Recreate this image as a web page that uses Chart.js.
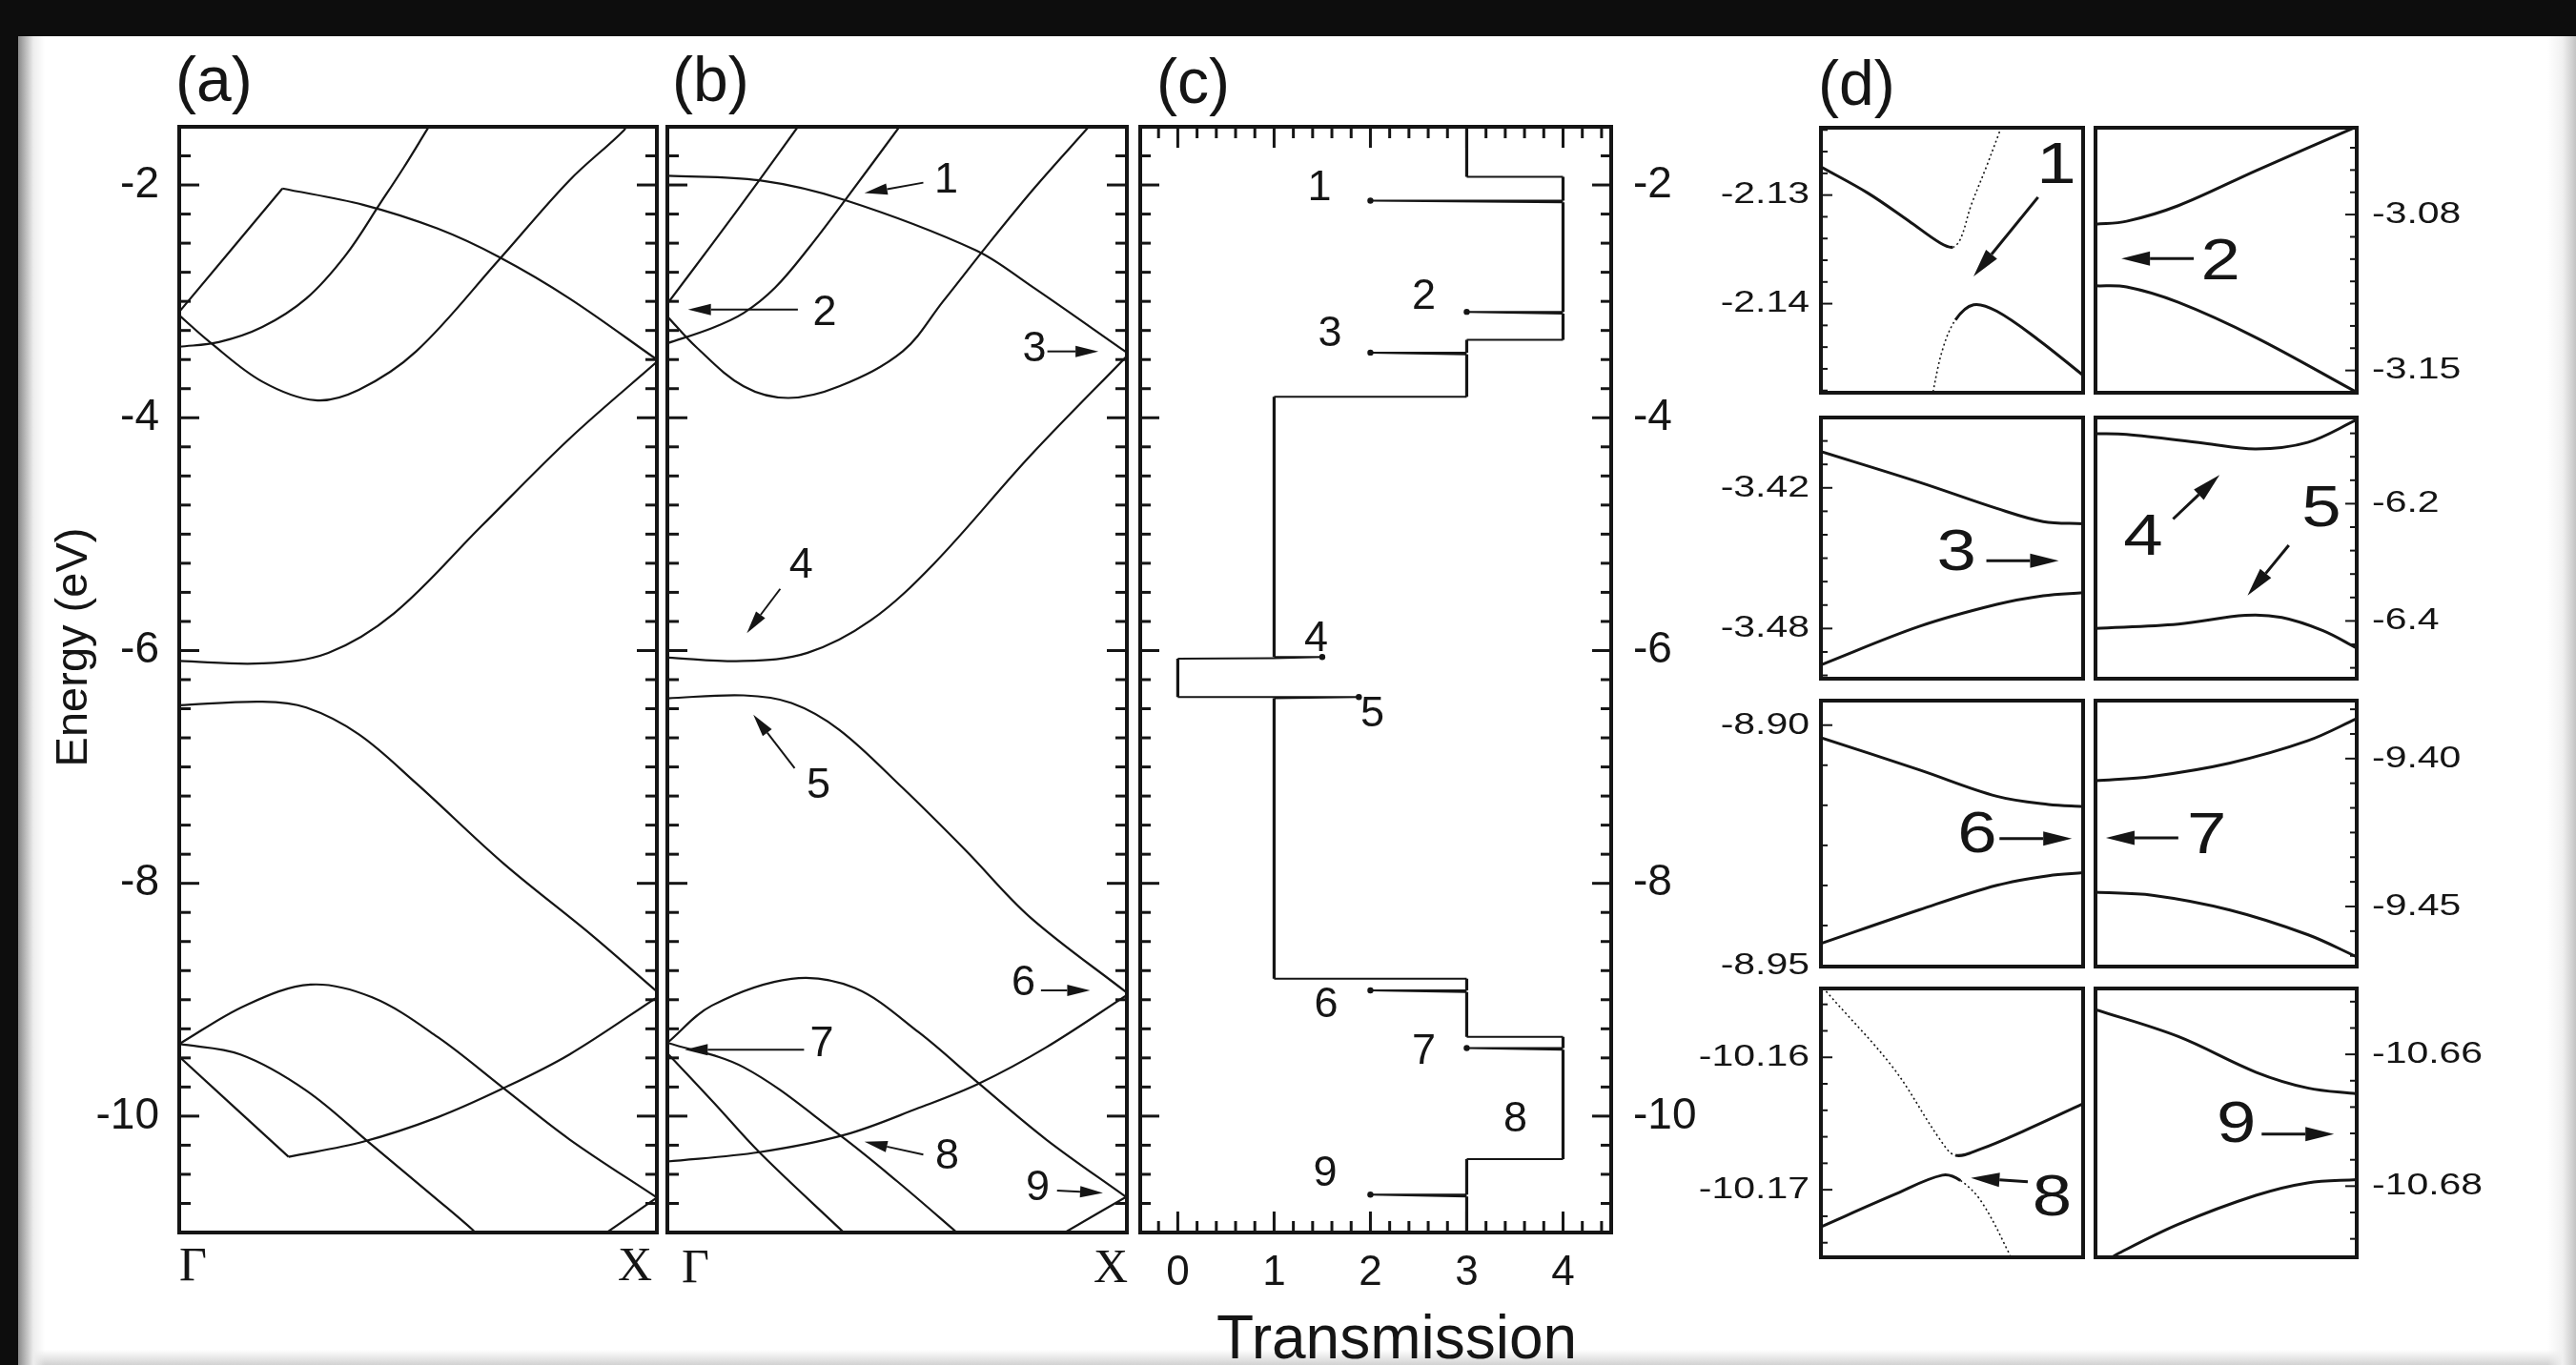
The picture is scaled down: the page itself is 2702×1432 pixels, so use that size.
<!DOCTYPE html>
<html>
<head>
<meta charset="utf-8">
<title>Band structure and transmission</title>
<script src="https://cdn.jsdelivr.net/npm/chart.js@4.4.1/dist/chart.umd.min.js"></script>
<style>
  html, body { margin: 0; padding: 0; }
  body { width: 2702px; height: 1432px; background: #0d0d0d; position: relative; overflow: hidden; }
  #sheet {
    position: absolute; left: 19px; top: 38px; right: 0; bottom: 0;
    background:
      linear-gradient(to right, #8a8a8a, #ededed 16px, rgba(255,255,255,0) 28px),
      linear-gradient(to left, #c4c4c4, #f0f0f0 14px, rgba(255,255,255,0) 30px),
      linear-gradient(to top, #d2d2d2, rgba(255,255,255,0) 16px),
      #fff;
  }
  canvas { position: absolute; }
</style>
</head>
<body>
<div id="sheet"></div>
<canvas id="panelA"></canvas>
<canvas id="panelB"></canvas>
<canvas id="panelC"></canvas>
<canvas id="box1"></canvas>
<canvas id="box2"></canvas>
<canvas id="box3"></canvas>
<canvas id="box4"></canvas>
<canvas id="box5"></canvas>
<canvas id="box6"></canvas>
<canvas id="box7"></canvas>
<canvas id="box8"></canvas>
<script>
// ---------------- data ----------------
// k runs from 0 (Gamma) to 1 (X); points are [k, E in eV]
const kPoints = [0, 1];
const kNames = ['Γ', 'X'];
const energyTicks = [-2, -4, -6, -8, -10];
const transTicks = [0, 1, 2, 3, 4];

// panel (a)
const bandA1 = [[0, -3.09], [0.216, -2.03]];
const bandA2 = [[0.216, -2.03], [0.385, -2.17], [0.541, -2.375], [0.67, -2.62], [0.817, -2.975], [1, -3.5]];
const bandA3 = [[0, -3.39], [0.083, -3.35], [0.174, -3.22], [0.266, -2.975], [0.349, -2.6], [0.422, -2.15], [0.47, -1.85], [0.518, -1.53], [0.53, -1.45]];
const bandA4 = [[0, -3.12], [0.064, -3.35], [0.174, -3.69], [0.285, -3.85], [0.376, -3.76], [0.496, -3.43], [0.67, -2.64], [0.817, -1.96], [0.931, -1.53], [0.94, -1.45]];
const bandA5 = [[0, -6.09], [0.174, -6.11], [0.312, -6.02], [0.45, -5.68], [0.633, -4.93], [0.817, -4.18], [1, -3.52]];
const bandA6 = [[0, -6.47], [0.174, -6.44], [0.266, -6.49], [0.376, -6.72], [0.496, -7.14], [0.679, -7.83], [0.862, -8.44], [1, -8.93]];
const bandA7 = [[0, -9.38], [0.138, -9.05], [0.275, -8.87], [0.404, -8.98], [0.541, -9.32], [0.679, -9.76], [0.817, -10.2], [1, -10.7]];
const bandA8 = [[0, -9.38], [0.128, -9.47], [0.266, -9.78], [0.404, -10.25], [0.541, -10.72], [0.615, -10.98], [0.63, -11.05]];
const bandA9 = [[0, -9.49], [0.229, -10.35]];
const bandA10 = [[0.229, -10.35], [0.385, -10.22], [0.541, -10.01], [0.679, -9.76], [0.817, -9.47], [1, -8.98]];
const bandA11 = [[0.86, -11.1], [1, -10.7]];

// panel (b)
const bandB1 = [[0, -3.02], [0.097, -2.51], [0.2, -1.96], [0.284, -1.5], [0.3, -1.42]];
const bandB2 = [[0, -3.36], [0.097, -3.23], [0.166, -3.1], [0.235, -2.88], [0.31, -2.53], [0.387, -2.13], [0.505, -1.5], [0.52, -1.42]];
const bandB3 = [[0, -3.13], [0.062, -3.39], [0.166, -3.73], [0.263, -3.83], [0.374, -3.73], [0.512, -3.43], [0.6, -3.0], [0.7, -2.5], [0.8, -2.02], [0.917, -1.5], [0.935, -1.42]];
const bandB4 = [[0, -1.92], [0.2, -1.96], [0.387, -2.13], [0.671, -2.56], [0.789, -2.86], [1, -3.44]];
const bandB5 = [[0, -6.06], [0.166, -6.09], [0.305, -6.02], [0.443, -5.74], [0.581, -5.25], [0.789, -4.33], [1, -3.47]];
const bandB6 = [[0, -6.41], [0.166, -6.385], [0.27, -6.45], [0.374, -6.68], [0.512, -7.18], [0.65, -7.72], [0.789, -8.29], [1, -8.94]];
const bandB7 = [[0, -9.37], [0.097, -9.05], [0.27, -8.82], [0.408, -8.9], [0.547, -9.28], [0.678, -9.72], [0.824, -10.2], [1, -10.7]];
const bandB8 = [[0, -9.37], [0.166, -9.58], [0.374, -10.16], [0.5, -10.56], [0.63, -11.0], [0.65, -11.07]];
const bandB9 = [[0, -9.46], [0.1, -9.88], [0.2, -10.31], [0.384, -11.0], [0.4, -11.06]];
const bandB10 = [[0, -10.39], [0.2, -10.31], [0.387, -10.16], [0.547, -9.93], [0.678, -9.72], [0.824, -9.41], [1, -8.96]];
const bandB11 = [[0.865, -11.0], [1, -10.69]];

// panel (c): transmission step curve, walked from top to bottom in energy
const transT = [3, 3, 4, 4, 2, 4, 4, 3, 4, 4, 3, 3, 2, 3, 3, 1, 1, 1.5, 1, 0, 0, 1, 1.88, 1, 1, 3, 3, 2, 3, 3, 4, 4, 3, 4, 4, 3, 3, 2, 3, 3];
const transE = [-1.5, -1.93, -1.93, -2.135, -2.135, -2.15, -3.09, -3.09, -3.105, -3.33, -3.33, -3.44, -3.44, -3.455, -3.82, -3.82,
  -6.055, -6.055, -6.065, -6.07, -6.4, -6.4, -6.4, -6.41, -8.82, -8.82, -8.92, -8.92, -8.935, -9.32, -9.32, -9.415, -9.415, -9.43,
  -10.37, -10.37, -10.675, -10.675, -10.69, -11];

// panel (d): zoomed anticrossings, u is a relative k inside each box
const box1Upper = [[0, -2.1274], [0.178, -2.1298], [0.336, -2.1324], [0.454, -2.1344], [0.503, -2.1348], [0.533, -2.134], [0.572, -2.131], [0.631, -2.1274], [0.681, -2.1242], [0.7, -2.123]];
const box1Lower = [[0.42, -2.149], [0.463, -2.1443], [0.513, -2.1415], [0.582, -2.1401], [0.671, -2.1407], [0.828, -2.1433], [1, -2.1466]];
const box2Upper = [[0, -3.0843], [0.119, -3.083], [0.317, -3.076], [0.614, -3.0603], [1, -3.0405]];
const box2Lower = [[0, -3.112], [0.119, -3.1125], [0.317, -3.1194], [0.614, -3.1352], [1, -3.1598]];
const box3Upper = [[0, -3.4045], [0.375, -3.4176], [0.671, -3.4288], [0.848, -3.4344], [1, -3.4353]];
const box3Lower = [[0, -3.4955], [0.375, -3.4791], [0.671, -3.4697], [0.848, -3.466], [1, -3.4647]];
const box4Upper = [[0, -6.0805], [0.119, -6.082], [0.416, -6.097], [0.614, -6.1067], [0.812, -6.0955], [1, -6.057]];
const box4Lower = [[0, -6.4128], [0.317, -6.4054], [0.574, -6.3904], [0.713, -6.3941], [0.871, -6.4166], [1, -6.4463]];
const box5Upper = [[0, -8.9026], [0.375, -8.9093], [0.671, -8.9148], [0.868, -8.9165], [1, -8.9169]];
const box5Lower = [[0, -8.9454], [0.375, -8.9384], [0.671, -8.9333], [0.868, -8.9313], [1, -8.9307]];
const box6Upper = [[0, -9.4075], [0.218, -9.406], [0.515, -9.4015], [0.812, -9.394], [1, -9.3865]];
const box6Lower = [[0, -9.4452], [0.218, -9.4462], [0.515, -9.4512], [0.812, -9.4595], [1, -9.467]];
const box7Upper = [[0, -10.1544], [0.015, -10.1549], [0.276, -10.1608], [0.454, -10.1662], [0.513, -10.1674], [0.612, -10.1669], [0.769, -10.1656], [1, -10.1635]];
const box7Lower = [[0, -10.1728], [0.276, -10.1704], [0.463, -10.1689], [0.532, -10.1693], [0.612, -10.1709], [0.72, -10.1749], [0.73, -10.1756]];
const box8Upper = [[0, -10.6532], [0.317, -10.6573], [0.614, -10.6627], [0.812, -10.6651], [1, -10.666]];
const box8Lower = [[0.05, -10.6912], [0.079, -10.6904], [0.317, -10.6858], [0.614, -10.6814], [0.812, -10.6795], [1, -10.679]];

const box1Labels = ['-2.13', '-2.14'];
const box2Labels = ['-3.08', '-3.15'];
const box3Labels = ['-3.42', '-3.48'];
const box4Labels = ['-6.2', '-6.4'];
const box5Labels = ['-8.90', '-8.95'];
const box6Labels = ['-9.40', '-9.45'];
const box7Labels = ['-10.16', '-10.17'];
const box8Labels = ['-10.66', '-10.68'];

// ---------------- drawing helpers ----------------
const INK = '#151515';
const SANS = "'Liberation Sans', Arial, sans-serif";
const SERIF = "'Liberation Serif', 'Times New Roman', serif";

function tickValues(anchor, step, min, max) {
  const out = [];
  for (let i = -400; i <= 400; i++) {
    const v = anchor + i * step;
    if (v >= min - 1e-9 && v <= max + 1e-9) out.push(v);
  }
  return out;
}

function drawText(ctx, str, x, y, font, align, sx, baseline) {
  ctx.save();
  ctx.translate(x, y);
  ctx.scale(sx || 1, 1);
  ctx.font = font;
  ctx.textAlign = align || 'center';
  ctx.textBaseline = baseline || 'middle';
  ctx.fillText(str, 0, 0);
  ctx.restore();
}

function drawArrow(ctx, x0, y0, x1, y1, width, headLen, headW) {
  const ang = Math.atan2(y1 - y0, x1 - x0);
  const bx = x1 - headLen * Math.cos(ang), by = y1 - headLen * Math.sin(ang);
  ctx.lineWidth = width;
  ctx.beginPath(); ctx.moveTo(x0, y0); ctx.lineTo(bx, by); ctx.stroke();
  ctx.beginPath();
  ctx.moveTo(x1, y1);
  ctx.lineTo(bx + headW / 2 * Math.sin(ang), by - headW / 2 * Math.cos(ang));
  ctx.lineTo(bx - headW / 2 * Math.sin(ang), by + headW / 2 * Math.cos(ang));
  ctx.closePath(); ctx.fill();
}

// frame, inward ticks, labels and notes, all placed through the chart scales
function framePlugin(spec) {
  return {
    id: 'frame',
    afterDatasetsDraw(chart) {
      const { ctx, chartArea: a, scales } = chart;
      const sx = scales.x, sy = scales.y;
      ctx.save();
      ctx.strokeStyle = INK; ctx.fillStyle = INK;

      ctx.lineWidth = spec.tickWidth;
      if (spec.yTicks) {
        const t = spec.yTicks;
        tickValues(t.anchor, t.step, sy.min, sy.max).forEach(v => {
          const p = sy.getPixelForValue(v);
          const major = t.majors.some(m => Math.abs(m - v) < t.step * 0.01);
          const len = major ? t.majorLen : t.minorLen;
          t.sides.forEach(side => {
            ctx.beginPath();
            if (side === 'left') { ctx.moveTo(a.left, p); ctx.lineTo(a.left + len, p); }
            else { ctx.moveTo(a.right, p); ctx.lineTo(a.right - len, p); }
            ctx.stroke();
          });
        });
      }
      if (spec.xTicks) {
        const t = spec.xTicks;
        tickValues(t.anchor, t.step, sx.min, sx.max).forEach(v => {
          const p = sx.getPixelForValue(v);
          const major = t.majors.some(m => Math.abs(m - v) < t.step * 0.01);
          const len = major ? t.majorLen : t.minorLen;
          t.sides.forEach(side => {
            ctx.beginPath();
            if (side === 'top') { ctx.moveTo(p, a.top); ctx.lineTo(p, a.top + len); }
            else { ctx.moveTo(p, a.bottom); ctx.lineTo(p, a.bottom - len); }
            ctx.stroke();
          });
        });
      }

      ctx.lineWidth = spec.frameWidth;
      ctx.strokeRect(a.left, a.top, a.width, a.height);

      if (spec.yLabels) {
        const l = spec.yLabels;
        l.texts.forEach(txt => {
          const p = sy.getPixelForValue(parseFloat(txt));
          if (l.side === 'left') drawText(ctx, txt, a.left - l.gap, p, l.font, 'right', l.sx);
          else drawText(ctx, txt, a.right + l.gap, p, l.font, 'left', l.sx);
        });
      }
      if (spec.xLabels) {
        const l = spec.xLabels;
        l.values.forEach(v => drawText(ctx, String(v), sx.getPixelForValue(v), a.bottom + l.gap, l.font, 'center'));
      }
      if (spec.kLabels) {
        const l = spec.kLabels;
        kPoints.forEach((k, i) => {
          drawText(ctx, kNames[i], sx.getPixelForValue(k) + l.offsets[i], l.baseline - spec.top, l.font, l.aligns[i], 1, 'alphabetic');
        });
      }
      (spec.titles || []).forEach(t => {
        ctx.save();
        ctx.translate(t.x - spec.left, t.y - spec.top);
        if (t.rotate) ctx.rotate(t.rotate);
        drawText(ctx, t.text, 0, 0, t.font, t.align || 'left', t.sx, 'alphabetic');
        ctx.restore();
      });
      (spec.notes || []).forEach(n => {
        drawText(ctx, n.text, sx.getPixelForValue(n.at[0]), sy.getPixelForValue(n.at[1]), spec.noteFont, 'center', spec.noteSx);
        if (n.from) {
          drawArrow(ctx, sx.getPixelForValue(n.from[0]), sy.getPixelForValue(n.from[1]),
            sx.getPixelForValue(n.to[0]), sy.getPixelForValue(n.to[1]), spec.arrowWidth, spec.headLen, spec.headW);
        }
      });
      ctx.restore();
    }
  };
}

function makeChart(id, box, pad, xr, yr, datasets, spec) {
  const cv = document.getElementById(id);
  cv.width = box.w + pad.l + pad.r;
  cv.height = box.h + pad.t + pad.b;
  spec.left = box.x - pad.l;
  spec.top = box.y - pad.t;
  cv.style.left = spec.left + 'px';
  cv.style.top = spec.top + 'px';
  return new Chart(cv, {
    type: 'scatter',
    data: { datasets },
    options: {
      responsive: false,
      animation: false,
      events: [],
      layout: { padding: { left: pad.l, right: pad.r, top: pad.t, bottom: pad.b } },
      plugins: { legend: { display: false }, tooltip: { enabled: false } },
      scales: {
        x: { type: 'linear', display: false, min: xr[0], max: xr[1] },
        y: { type: 'linear', display: false, min: yr[0], max: yr[1] }
      }
    },
    plugins: [framePlugin(spec)]
  });
}

const toXY = pts => pts.map(p => ({ x: p[0], y: p[1] }));

const bandLine = pts => ({
  data: toXY(pts), showLine: true, borderColor: INK, borderWidth: 2.2,
  pointRadius: 0, tension: 0.35, fill: false
});

const steep = c => Math.abs(c.p1.y - c.p0.y) > 0.95 * Math.abs(c.p1.x - c.p0.x);
const boxLine = pts => ({
  data: toXY(pts), showLine: true, borderColor: INK, borderWidth: 3,
  pointRadius: 0, tension: 0.35, fill: false,
  segment: {
    borderDash: c => steep(c) ? [2, 3] : undefined,
    borderWidth: c => steep(c) ? 1.6 : undefined
  }
});

// ---------------- panels (a), (b), (c) ----------------
const eRange = [-11, -1.5];
const bandTicks = { anchor: -2, step: 0.25, majors: energyTicks, sides: ['left', 'right'], majorLen: 21, minorLen: 12 };
const tickFont = '46px ' + SANS;
const tagFont = '66px ' + SANS;

makeChart('panelA', { x: 188, y: 133, w: 501, h: 1160 }, { l: 170, r: 6, t: 100, b: 80 }, [0, 1], eRange,
  [bandA1, bandA2, bandA3, bandA4, bandA5, bandA6, bandA7, bandA8, bandA9, bandA10, bandA11].map(bandLine),
  {
    frameWidth: 4, tickWidth: 3, yTicks: bandTicks,
    yLabels: { texts: energyTicks.map(String), side: 'left', gap: 21, font: tickFont },
    kLabels: { offsets: [0, -5], aligns: ['left', 'right'], baseline: 1343, font: '50px ' + SERIF },
    titles: [
      { text: '(a)', x: 184, y: 106, font: tagFont },
      { text: 'Energy (eV)', x: 91, y: 679, font: '47px ' + SANS, align: 'center', rotate: -Math.PI / 2 }
    ]
  });

makeChart('panelB', { x: 700, y: 133, w: 482, h: 1160 }, { l: 6, r: 6, t: 100, b: 80 }, [0, 1], eRange,
  [bandB1, bandB2, bandB3, bandB4, bandB5, bandB6, bandB7, bandB8, bandB9, bandB10, bandB11].map(bandLine),
  {
    frameWidth: 4, tickWidth: 3, yTicks: bandTicks,
    kLabels: { offsets: [15, 1], aligns: ['left', 'right'], baseline: 1345, font: '50px ' + SERIF },
    titles: [{ text: '(b)', x: 705, y: 106, font: tagFont }],
    noteFont: '45px ' + SANS, arrowWidth: 2, headLen: 24, headW: 12,
    notes: [
      { text: '1', at: [0.607, -1.96], from: [0.557, -1.98], to: [0.429, -2.07] },
      { text: '2', at: [0.3425, -3.1], from: [0.284, -3.07], to: [0.045, -3.07] },
      { text: '3', at: [0.799, -3.41], from: [0.827, -3.43], to: [0.938, -3.43] },
      { text: '4', at: [0.291, -5.27], from: [0.2456, -5.47], to: [0.173, -5.85] },
      { text: '5', at: [0.329, -7.16], from: [0.277, -7.01], to: [0.187, -6.55] },
      { text: '6', at: [0.775, -8.86], from: [0.813, -8.92], to: [0.92, -8.92] },
      { text: '7', at: [0.336, -9.38], from: [0.2975, -9.43], to: [0.038, -9.43] },
      { text: '8', at: [0.609, -10.35], from: [0.557, -10.33], to: [0.429, -10.22] },
      { text: '9', at: [0.806, -10.62], from: [0.848, -10.64], to: [0.948, -10.66] }
    ]
  });

const isTip = i => i > 0 && i < transT.length - 1 &&
  ((transT[i - 1] > transT[i] && transT[i + 1] > transT[i]) || (transT[i - 1] < transT[i] && transT[i + 1] < transT[i]));

makeChart('panelC', { x: 1196, y: 133, w: 494, h: 1160 }, { l: 6, r: 100, t: 100, b: 140 }, [-0.39, 4.5], eRange,
  [{
    data: transT.map((t, i) => ({ x: t, y: transE[i] })),
    showLine: true, borderColor: INK, borderWidth: 2, tension: 0, fill: false,
    pointRadius: c => isTip(c.dataIndex) ? 3.2 : 0,
    pointBackgroundColor: INK, pointBorderWidth: 0,
    segment: { borderWidth: c => Math.abs(c.p0.x - c.p1.x) < 0.5 ? 3.2 : undefined }
  }],
  {
    frameWidth: 4, tickWidth: 3,
    yTicks: { anchor: -2, step: 0.25, majors: energyTicks, sides: ['left', 'right'], majorLen: 20, minorLen: 11 },
    xTicks: { anchor: 0, step: 0.2, majors: transTicks, sides: ['top', 'bottom'], majorLen: 22, minorLen: 12 },
    yLabels: { texts: energyTicks.map(String), side: 'right', gap: 23, font: tickFont },
    xLabels: { values: transTicks, gap: 43, font: '44px ' + SANS },
    titles: [
      { text: '(c)', x: 1213, y: 108, font: tagFont },
      { text: 'Transmission', x: 1465, y: 1425, font: '64px ' + SANS, align: 'center' }
    ],
    noteFont: '45px ' + SANS,
    notes: [
      { text: '1', at: [1.47, -2.03] }, { text: '2', at: [2.555, -2.96] }, { text: '3', at: [1.58, -3.28] },
      { text: '4', at: [1.436, -5.9] }, { text: '5', at: [2.02, -6.55] }, { text: '6', at: [1.54, -9.05] },
      { text: '7', at: [2.555, -9.45] }, { text: '8', at: [3.506, -10.03] }, { text: '9', at: [1.53, -10.5] }
    ]
  });

// ---------------- panel (d) ----------------
const dCols = [{ x: 1910, w: 275 }, { x: 2198, w: 274 }];
const dRows = [{ y: 134, h: 278 }, { y: 438, h: 274 }, { y: 735, h: 279 }, { y: 1037, h: 282 }];
const dLabelFont = '32px ' + SANS;

function makeBox(id, col, row, yr, step, labels, lines, notes) {
  const left = col === 0;
  const pad = { l: left ? 170 : 6, r: left ? 6 : 170, t: row === 0 ? 100 : 12, b: 12 };
  const spec = {
    frameWidth: 4, tickWidth: 2,
    yTicks: { anchor: parseFloat(labels[0]), step, majors: labels.map(parseFloat), sides: [left ? 'left' : 'right'], majorLen: 12, minorLen: 7 },
    yLabels: { texts: labels, side: left ? 'left' : 'right', gap: left ? 12 : 16, font: dLabelFont, sx: 1.28 },
    noteFont: '62px ' + SANS, noteSx: 1.2, arrowWidth: 3, headLen: 30, headW: 15,
    notes
  };
  if (id === 'box1') spec.titles = [{ text: '(d)', x: 1907, y: 110, font: tagFont }];
  makeChart(id, { x: dCols[col].x, y: dRows[row].y, w: dCols[col].w, h: dRows[row].h }, pad, [0, 1], yr, lines.map(boxLine), spec);
}

makeBox('box1', 0, 0, [-2.1482, -2.1238], 0.002, box1Labels, [box1Upper, box1Lower],
  [{ text: '1', at: [0.898, -2.1274], from: [0.828, -2.1302], to: [0.582, -2.1375] }]);
makeBox('box2', 1, 0, [-3.16, -3.041], 0.01, box2Labels, [box2Upper, box2Lower],
  [{ text: '2', at: [0.479, -3.1017], from: [0.376, -3.0997], to: [0.099, -3.0997] }]);
makeBox('box3', 0, 1, [-3.5014, -3.39], 0.01, box3Labels, [box3Upper, box3Lower],
  [{ text: '3', at: [0.517, -3.4483], from: [0.631, -3.4511], to: [0.907, -3.4511] }]);
makeBox('box4', 1, 1, [-6.4985, -6.053], 0.04, box4Labels, [box4Upper, box4Lower],
  [{ text: '4', at: [0.182, -6.2597], from: [0.297, -6.2262], to: [0.475, -6.1511] },
   { text: '5', at: [0.865, -6.2112], from: [0.74, -6.2709], to: [0.582, -6.3567] }]);
makeBox('box5', 0, 2, [-8.9502, -8.8949], 0.05 / 6, box5Labels, [box5Upper, box5Lower],
  [{ text: '6', at: [0.596, -8.9231], from: [0.681, -8.9236], to: [0.957, -8.9236] }]);
makeBox('box6', 1, 2, [-9.4703, -9.3804], 0.05 / 6, box6Labels, [box6Upper, box6Lower],
  [{ text: '7', at: [0.426, -9.4266], from: [0.317, -9.4268], to: [0.04, -9.4268] }]);
makeBox('box7', 0, 3, [-10.1751, -10.1548], 0.002, box7Labels, [box7Upper, box7Lower],
  [{ text: '8', at: [0.882, -10.1707], from: [0.789, -10.1694], to: [0.572, -10.1691] }]);
makeBox('box8', 1, 3, [-10.6908, -10.65], 0.004, box8Labels, [box8Upper, box8Lower],
  [{ text: '9', at: [0.539, -10.6708], from: [0.636, -10.6721], to: [0.913, -10.6721] }]);
</script>
</body>
</html>
